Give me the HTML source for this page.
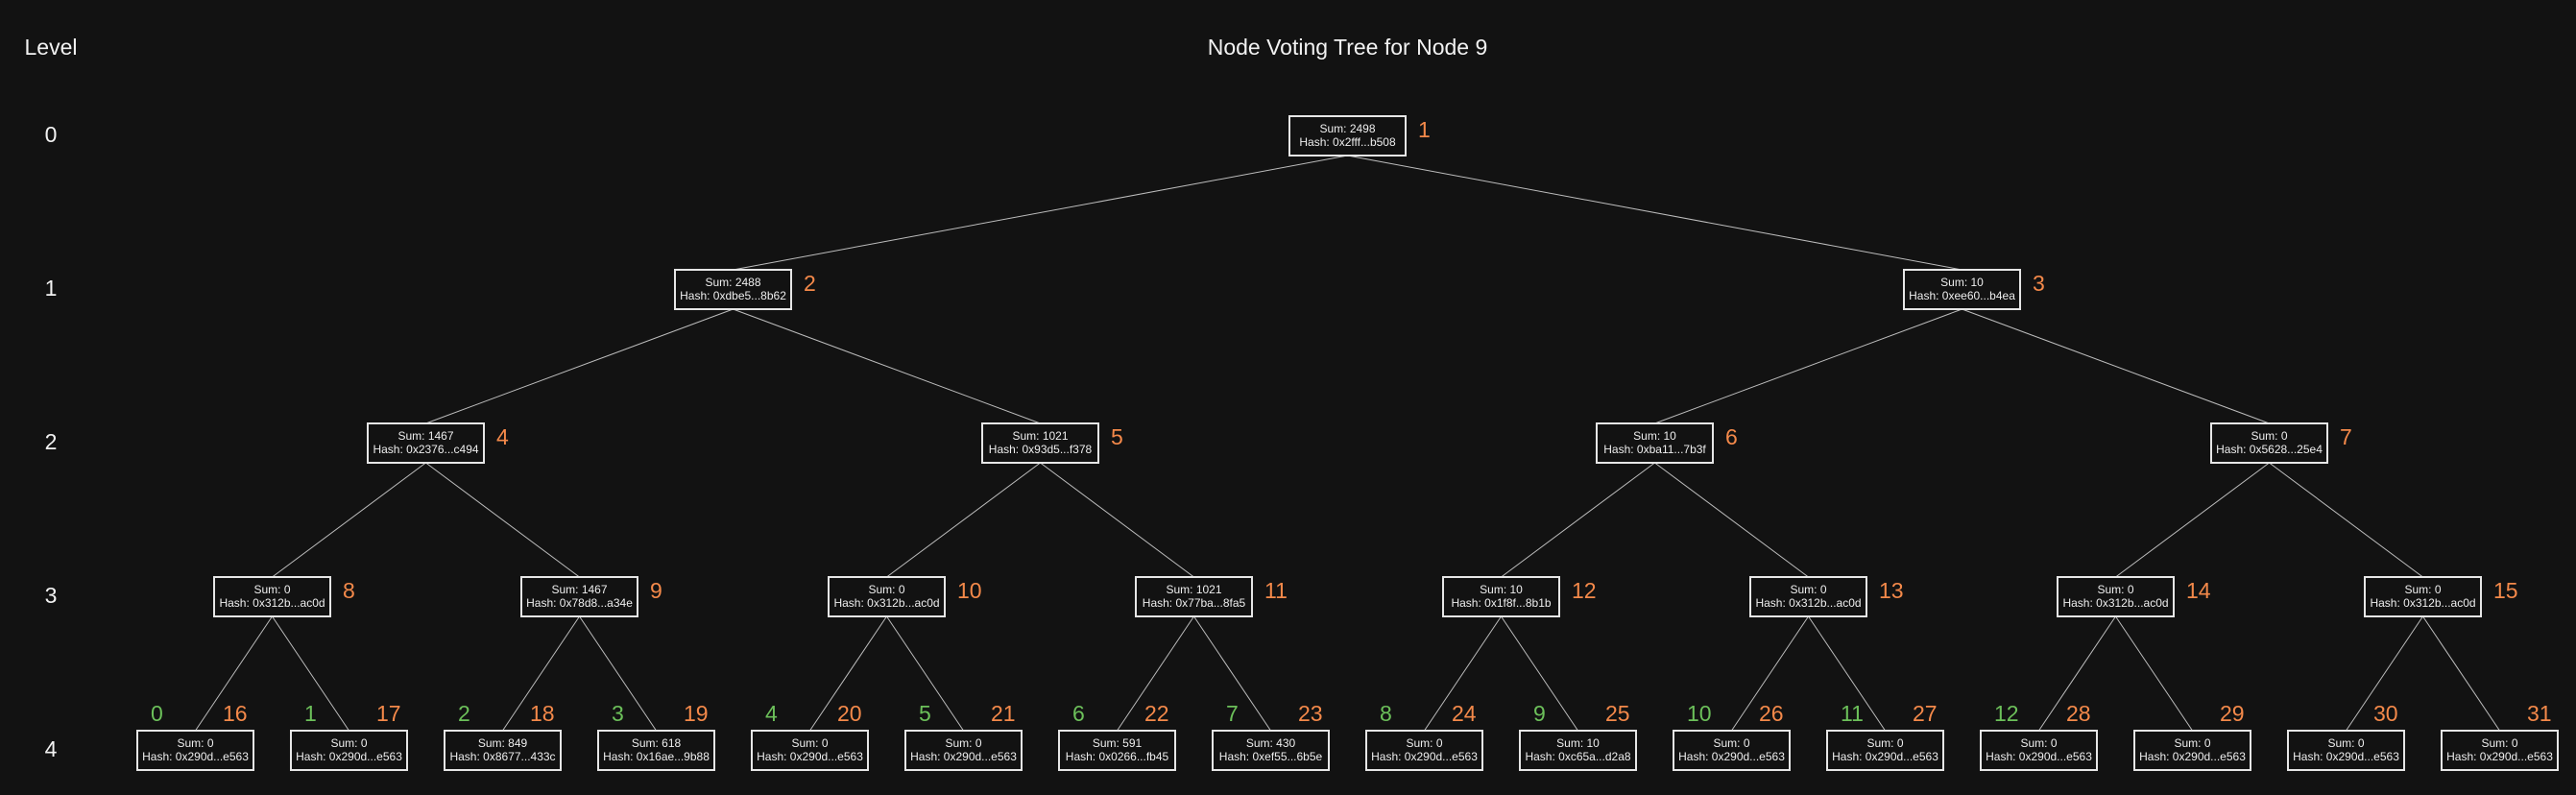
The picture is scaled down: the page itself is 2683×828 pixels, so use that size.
<!DOCTYPE html>
<html><head><meta charset="utf-8"><style>
html,body{margin:0;padding:0;background:#121212;}
svg{display:block;font-family:"Liberation Sans",sans-serif;}
.b{fill:#121212;stroke:#e6e6e6;stroke-width:2}
.t{fill:#eeeeee;font-size:12px;text-anchor:middle}
.o{fill:#f4894a;font-size:23px}
.g{fill:#6cc05a;font-size:23px}
.l{fill:#f2f2f2;font-size:23px;text-anchor:middle}
line{stroke:#bdbdbd;stroke-width:1}
</style></head><body>
<svg width="2683" height="828" viewBox="0 0 2683 828" xmlns="http://www.w3.org/2000/svg">
<rect width="2683" height="828" fill="#121212"/>
<text x="1403.5" y="57" class="l">Node Voting Tree for Node 9</text>
<text x="53" y="57" class="l">Level</text>
<text x="53" y="148" class="l">0</text>
<text x="53" y="308" class="l">1</text>
<text x="53" y="468" class="l">2</text>
<text x="53" y="628" class="l">3</text>
<text x="53" y="788" class="l">4</text>
<line x1="1403.5" y1="162" x2="763.5" y2="281"/><line x1="1403.5" y1="162" x2="2043.5" y2="281"/>
<line x1="763.5" y1="322" x2="443.5" y2="441"/><line x1="763.5" y1="322" x2="1083.5" y2="441"/>
<line x1="2043.5" y1="322" x2="1723.5" y2="441"/><line x1="2043.5" y1="322" x2="2363.5" y2="441"/>
<line x1="443.5" y1="482" x2="283.5" y2="601"/><line x1="443.5" y1="482" x2="603.5" y2="601"/>
<line x1="1083.5" y1="482" x2="923.5" y2="601"/><line x1="1083.5" y1="482" x2="1243.5" y2="601"/>
<line x1="1723.5" y1="482" x2="1563.5" y2="601"/><line x1="1723.5" y1="482" x2="1883.5" y2="601"/>
<line x1="2363.5" y1="482" x2="2203.5" y2="601"/><line x1="2363.5" y1="482" x2="2523.5" y2="601"/>
<line x1="283.5" y1="642" x2="203.5" y2="761"/><line x1="283.5" y1="642" x2="363.5" y2="761"/>
<line x1="603.5" y1="642" x2="523.5" y2="761"/><line x1="603.5" y1="642" x2="683.5" y2="761"/>
<line x1="923.5" y1="642" x2="843.5" y2="761"/><line x1="923.5" y1="642" x2="1003.5" y2="761"/>
<line x1="1243.5" y1="642" x2="1163.5" y2="761"/><line x1="1243.5" y1="642" x2="1323.5" y2="761"/>
<line x1="1563.5" y1="642" x2="1483.5" y2="761"/><line x1="1563.5" y1="642" x2="1643.5" y2="761"/>
<line x1="1883.5" y1="642" x2="1803.5" y2="761"/><line x1="1883.5" y1="642" x2="1963.5" y2="761"/>
<line x1="2203.5" y1="642" x2="2123.5" y2="761"/><line x1="2203.5" y1="642" x2="2283.5" y2="761"/>
<line x1="2523.5" y1="642" x2="2443.5" y2="761"/><line x1="2523.5" y1="642" x2="2603.5" y2="761"/>

<g transform="translate(1403.5,121)"><rect class="b" x="-60.5" y="0" width="121" height="41"/><text class="t" y="17">Sum: 2498</text><text class="t" y="31">Hash: 0x2fff...b508</text><text class="o" x="73.5" y="22">1</text></g>
<g transform="translate(763.5,281)"><rect class="b" x="-60.5" y="0" width="121" height="41"/><text class="t" y="17">Sum: 2488</text><text class="t" y="31">Hash: 0xdbe5...8b62</text><text class="o" x="73.5" y="22">2</text></g>
<g transform="translate(2043.5,281)"><rect class="b" x="-60.5" y="0" width="121" height="41"/><text class="t" y="17">Sum: 10</text><text class="t" y="31">Hash: 0xee60...b4ea</text><text class="o" x="73.5" y="22">3</text></g>
<g transform="translate(443.5,441)"><rect class="b" x="-60.5" y="0" width="121" height="41"/><text class="t" y="17">Sum: 1467</text><text class="t" y="31">Hash: 0x2376...c494</text><text class="o" x="73.5" y="22">4</text></g>
<g transform="translate(1083.5,441)"><rect class="b" x="-60.5" y="0" width="121" height="41"/><text class="t" y="17">Sum: 1021</text><text class="t" y="31">Hash: 0x93d5...f378</text><text class="o" x="73.5" y="22">5</text></g>
<g transform="translate(1723.5,441)"><rect class="b" x="-60.5" y="0" width="121" height="41"/><text class="t" y="17">Sum: 10</text><text class="t" y="31">Hash: 0xba11...7b3f</text><text class="o" x="73.5" y="22">6</text></g>
<g transform="translate(2363.5,441)"><rect class="b" x="-60.5" y="0" width="121" height="41"/><text class="t" y="17">Sum: 0</text><text class="t" y="31">Hash: 0x5628...25e4</text><text class="o" x="73.5" y="22">7</text></g>
<g transform="translate(283.5,601)"><rect class="b" x="-60.5" y="0" width="121" height="41"/><text class="t" y="17">Sum: 0</text><text class="t" y="31">Hash: 0x312b...ac0d</text><text class="o" x="73.5" y="22">8</text></g>
<g transform="translate(603.5,601)"><rect class="b" x="-60.5" y="0" width="121" height="41"/><text class="t" y="17">Sum: 1467</text><text class="t" y="31">Hash: 0x78d8...a34e</text><text class="o" x="73.5" y="22">9</text></g>
<g transform="translate(923.5,601)"><rect class="b" x="-60.5" y="0" width="121" height="41"/><text class="t" y="17">Sum: 0</text><text class="t" y="31">Hash: 0x312b...ac0d</text><text class="o" x="73.5" y="22">10</text></g>
<g transform="translate(1243.5,601)"><rect class="b" x="-60.5" y="0" width="121" height="41"/><text class="t" y="17">Sum: 1021</text><text class="t" y="31">Hash: 0x77ba...8fa5</text><text class="o" x="73.5" y="22">11</text></g>
<g transform="translate(1563.5,601)"><rect class="b" x="-60.5" y="0" width="121" height="41"/><text class="t" y="17">Sum: 10</text><text class="t" y="31">Hash: 0x1f8f...8b1b</text><text class="o" x="73.5" y="22">12</text></g>
<g transform="translate(1883.5,601)"><rect class="b" x="-60.5" y="0" width="121" height="41"/><text class="t" y="17">Sum: 0</text><text class="t" y="31">Hash: 0x312b...ac0d</text><text class="o" x="73.5" y="22">13</text></g>
<g transform="translate(2203.5,601)"><rect class="b" x="-60.5" y="0" width="121" height="41"/><text class="t" y="17">Sum: 0</text><text class="t" y="31">Hash: 0x312b...ac0d</text><text class="o" x="73.5" y="22">14</text></g>
<g transform="translate(2523.5,601)"><rect class="b" x="-60.5" y="0" width="121" height="41"/><text class="t" y="17">Sum: 0</text><text class="t" y="31">Hash: 0x312b...ac0d</text><text class="o" x="73.5" y="22">15</text></g>
<g transform="translate(203.5,761)"><rect class="b" x="-60.5" y="0" width="121" height="41"/><text class="t" y="17">Sum: 0</text><text class="t" y="31">Hash: 0x290d...e563</text><text class="g" x="-46.5" y="-10">0</text><text class="o" x="28.5" y="-10">16</text></g>
<g transform="translate(363.5,761)"><rect class="b" x="-60.5" y="0" width="121" height="41"/><text class="t" y="17">Sum: 0</text><text class="t" y="31">Hash: 0x290d...e563</text><text class="g" x="-46.5" y="-10">1</text><text class="o" x="28.5" y="-10">17</text></g>
<g transform="translate(523.5,761)"><rect class="b" x="-60.5" y="0" width="121" height="41"/><text class="t" y="17">Sum: 849</text><text class="t" y="31">Hash: 0x8677...433c</text><text class="g" x="-46.5" y="-10">2</text><text class="o" x="28.5" y="-10">18</text></g>
<g transform="translate(683.5,761)"><rect class="b" x="-60.5" y="0" width="121" height="41"/><text class="t" y="17">Sum: 618</text><text class="t" y="31">Hash: 0x16ae...9b88</text><text class="g" x="-46.5" y="-10">3</text><text class="o" x="28.5" y="-10">19</text></g>
<g transform="translate(843.5,761)"><rect class="b" x="-60.5" y="0" width="121" height="41"/><text class="t" y="17">Sum: 0</text><text class="t" y="31">Hash: 0x290d...e563</text><text class="g" x="-46.5" y="-10">4</text><text class="o" x="28.5" y="-10">20</text></g>
<g transform="translate(1003.5,761)"><rect class="b" x="-60.5" y="0" width="121" height="41"/><text class="t" y="17">Sum: 0</text><text class="t" y="31">Hash: 0x290d...e563</text><text class="g" x="-46.5" y="-10">5</text><text class="o" x="28.5" y="-10">21</text></g>
<g transform="translate(1163.5,761)"><rect class="b" x="-60.5" y="0" width="121" height="41"/><text class="t" y="17">Sum: 591</text><text class="t" y="31">Hash: 0x0266...fb45</text><text class="g" x="-46.5" y="-10">6</text><text class="o" x="28.5" y="-10">22</text></g>
<g transform="translate(1323.5,761)"><rect class="b" x="-60.5" y="0" width="121" height="41"/><text class="t" y="17">Sum: 430</text><text class="t" y="31">Hash: 0xef55...6b5e</text><text class="g" x="-46.5" y="-10">7</text><text class="o" x="28.5" y="-10">23</text></g>
<g transform="translate(1483.5,761)"><rect class="b" x="-60.5" y="0" width="121" height="41"/><text class="t" y="17">Sum: 0</text><text class="t" y="31">Hash: 0x290d...e563</text><text class="g" x="-46.5" y="-10">8</text><text class="o" x="28.5" y="-10">24</text></g>
<g transform="translate(1643.5,761)"><rect class="b" x="-60.5" y="0" width="121" height="41"/><text class="t" y="17">Sum: 10</text><text class="t" y="31">Hash: 0xc65a...d2a8</text><text class="g" x="-46.5" y="-10">9</text><text class="o" x="28.5" y="-10">25</text></g>
<g transform="translate(1803.5,761)"><rect class="b" x="-60.5" y="0" width="121" height="41"/><text class="t" y="17">Sum: 0</text><text class="t" y="31">Hash: 0x290d...e563</text><text class="g" x="-46.5" y="-10">10</text><text class="o" x="28.5" y="-10">26</text></g>
<g transform="translate(1963.5,761)"><rect class="b" x="-60.5" y="0" width="121" height="41"/><text class="t" y="17">Sum: 0</text><text class="t" y="31">Hash: 0x290d...e563</text><text class="g" x="-46.5" y="-10">11</text><text class="o" x="28.5" y="-10">27</text></g>
<g transform="translate(2123.5,761)"><rect class="b" x="-60.5" y="0" width="121" height="41"/><text class="t" y="17">Sum: 0</text><text class="t" y="31">Hash: 0x290d...e563</text><text class="g" x="-46.5" y="-10">12</text><text class="o" x="28.5" y="-10">28</text></g>
<g transform="translate(2283.5,761)"><rect class="b" x="-60.5" y="0" width="121" height="41"/><text class="t" y="17">Sum: 0</text><text class="t" y="31">Hash: 0x290d...e563</text><text class="o" x="28.5" y="-10">29</text></g>
<g transform="translate(2443.5,761)"><rect class="b" x="-60.5" y="0" width="121" height="41"/><text class="t" y="17">Sum: 0</text><text class="t" y="31">Hash: 0x290d...e563</text><text class="o" x="28.5" y="-10">30</text></g>
<g transform="translate(2603.5,761)"><rect class="b" x="-60.5" y="0" width="121" height="41"/><text class="t" y="17">Sum: 0</text><text class="t" y="31">Hash: 0x290d...e563</text><text class="o" x="28.5" y="-10">31</text></g>
</svg>
</body></html>
